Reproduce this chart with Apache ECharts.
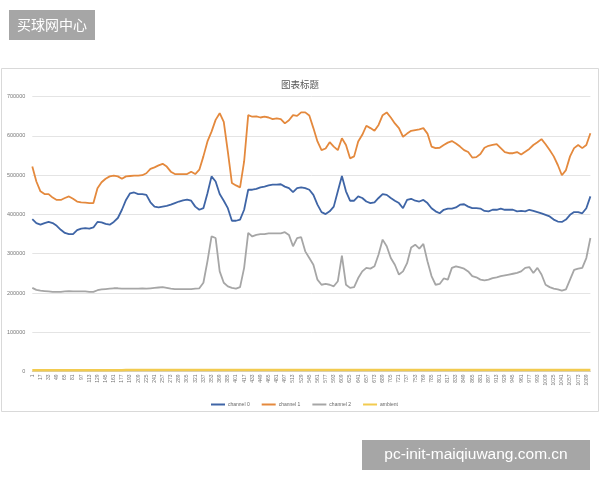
<!DOCTYPE html>
<html>
<head>
<meta charset="utf-8">
<script src="https://cdn.jsdelivr.net/npm/echarts@6/dist/echarts.min.js"></script>
<style>
html,body{margin:0;padding:0;background:#fff;}
#c{width:600px;height:480px;}
</style>
</head>
<body>
<div id="c"></div>
<script>
var categories = ["1","9","17","25","33","41","49","57","65","73","81","89","97","105","113","121","129","137","145","153","161","169","177","185","193","201","209","217","225","233","241","249","257","265","273","281","289","297","305","313","321","329","337","345","353","361","369","377","385","393","401","409","417","425","433","441","449","457","465","473","481","489","497","505","513","521","529","537","545","553","561","569","577","585","593","601","609","617","625","633","641","649","657","665","673","681","689","697","705","713","721","729","737","745","753","761","769","777","785","793","801","809","817","825","833","841","849","857","865","873","881","889","897","905","913","921","929","937","945","953","961","969","977","985","993","1001","1009","1017","1025","1033","1041","1049","1057","1065","1073","1081","1089","1097"];

var channel0 = [388000,378000,374000,378000,381000,378000,371000,361000,353000,350000,350000,360000,364000,365000,364000,367000,381000,380000,376000,374000,381000,391000,412000,437000,454000,456000,452000,452000,
450000,431000,420000,418000,420000,422000,425000,429000,433000,436000,438000,435000,420000,412000,416000,454000,497000,484000,452000,435000,416000,384000,384000,387000,412000,463000,463000,465000,
469000,471000,474000,476000,476000,477000,471000,467000,457000,467000,469000,467000,463000,450000,425000,406000,401000,408000,420000,459000,498000,459000,435000,435000,446000,442000,433000,
429000,431000,442000,452000,450000,442000,435000,429000,416000,437000,440000,435000,433000,437000,429000,416000,408000,403000,412000,415000,415000,418000,425000,426000,420000,416000,416000,415000,
409000,408000,412000,412000,415000,412000,412000,412000,408000,409000,408000,412000,409000,406000,403000,399000,395000,387000,382000,381000,387000,399000,406000,406000,403000,416000,446000];

var channel1 = [522000,484000,459000,452000,452000,443000,437000,437000,442000,446000,440000,433000,431000,430000,429000,429000,467000,482000,491000,497000,499000,497000,491000,497000,498000,499000,499000,500000,
505000,516000,520000,525000,529000,522000,509000,503000,503000,503000,503000,509000,503000,514000,548000,586000,611000,641000,658000,636000,560000,480000,474000,469000,535000,653000,649000,650000,
647000,649000,647000,643000,645000,643000,632000,640000,653000,651000,660000,660000,652000,620000,586000,564000,568000,584000,573000,564000,594000,577000,543000,548000,586000,603000,626000,
620000,613000,628000,653000,660000,647000,632000,620000,598000,606000,613000,615000,617000,620000,606000,573000,569000,570000,577000,583000,587000,581000,573000,564000,559000,545000,546000,554000,
570000,575000,577000,579000,569000,559000,556000,556000,559000,553000,560000,567000,577000,584000,592000,579000,564000,548000,526000,500000,513000,548000,569000,577000,569000,577000,607000];

var channel2 = [213000,208000,206000,205000,204000,203000,203000,203000,204000,205000,204000,204000,204000,204000,203000,203000,207000,209000,210000,211000,212000,212000,211000,211000,211000,211000,211000,212000,
211000,212000,213000,214000,215000,213000,211000,210000,210000,210000,210000,210000,211000,212000,226000,281000,344000,340000,255000,226000,217000,213000,211000,215000,264000,353000,344000,348000,
350000,350000,352000,352000,352000,352000,355000,348000,319000,340000,342000,306000,289000,272000,234000,221000,223000,221000,217000,230000,295000,221000,213000,215000,238000,255000,264000,
262000,268000,298000,336000,319000,289000,272000,247000,255000,276000,316000,323000,313000,325000,281000,243000,221000,223000,237000,234000,264000,268000,265000,262000,255000,243000,240000,234000,
232000,234000,238000,240000,243000,245000,247000,249000,251000,255000,264000,266000,251000,264000,247000,221000,215000,211000,209000,206000,209000,234000,259000,262000,264000,289000,340000];

var ambient = [
3500,3500,3500,3500,3500,3500,3500,3500,3500,3500,3500,3500,3500,3500,3500,3500,3500,3500,3500,3500,3500,3500,3500,
3600,3600,3600,3600,3600,3600,3600,3600,3600,3600,3600,3600,3600,3600,3600,3600,3600,3600,3600,3600,3600,3600,3600,
3700,3700,3700,3700,3700,3700,3700,3700,3700,3700,3700,3700,3700,3700,3700,3700,3700,3700,3700,3700,3700,3700,3700,
3800,3800,3800,3800,3800,3800,3800,3800,3800,3800,3800,3800,3800,3800,3800,3800,3800,3800,3800,3800,3800,3800,3800,
3900,3900,3900,3900,3900,3900,3900,3900,3900,3900,3900,3900,3900,3900,3900,3900,3900,3900,3900,3900,3900,3900,3900,
4000,4000,4000,4000,4000,4000,4000,4000,4000,4000,4000,4000,4000,4000,4000,4000,4000,4000,4000,4000,4000,4000,4000];

var yTicks = [0,100000,200000,300000,400000,500000,600000,700000];
var seriesNames = ["channel 0","channel 1","channel 2","ambient"];
var seriesColors = ["#3f65a6","#e4893d","#a6a6a6","#f2cb4f"];

var chart = echarts.init(document.getElementById('c'), null, {renderer:'canvas'});
var dataSets = [channel0, channel1, channel2, ambient];
var series = dataSets.map(function(d, i){
  return {
    name: seriesNames[i], type:'line', data:d, showSymbol:false, smooth:false,
    lineStyle:{width: i===3 ? 2.5 : 1.8, color: seriesColors[i]},
    itemStyle:{color: seriesColors[i]},
    animation:false
  };
});
chart.setOption({
  animation:false,
  backgroundColor:'#ffffff',
  title:{text:'图表标题', left:'center', top:75, textStyle:{fontSize:9.5, fontWeight:'normal', color:'#595959', fontFamily:'Noto Sans CJK SC'}},
  legend:{data:seriesNames, left:206, top:397, itemWidth:14, itemHeight:2, itemGap:12, icon:'rect',
    textStyle:{fontSize:5, color:'#666', fontFamily:'Liberation Sans', padding:[0,0,0,-2]}},
  grid:{left:32.3, right:9.6, top:96.7, bottom:108.5, containLabel:false},
  xAxis:{type:'category', data:categories, boundaryGap:false,
    axisLine:{lineStyle:{color:'#d0d0d0'}}, axisTick:{show:false},
    axisLabel:{interval:1, rotate:90, fontSize:5, color:'#777', margin:3, fontFamily:'Liberation Sans'}},
  yAxis:{type:'value', min:yTicks[0], max:yTicks[yTicks.length-1], interval:100000,
    axisLine:{show:false}, axisTick:{show:false},
    axisLabel:{fontSize:5.5, color:'#777', margin:7, fontFamily:'Liberation Sans', formatter:function(v){return String(v);}},
    splitLine:{lineStyle:{color:'#e4e4e4', width:1}}},
  series: series,
  graphic:[
    {type:'rect', shape:{x:1.5, y:68.5, width:597, height:343}, style:{fill:'none', stroke:'#d9d9d9', lineWidth:1}, z:-10},
    {type:'rect', shape:{x:9, y:10, width:86, height:30}, style:{fill:'#a6a6a6'}, z:100},
    {type:'text', x:52, y:25, style:{text:'买球网中心', fill:'#ffffff', fontSize:14, fontFamily:'Noto Sans CJK SC', align:'center', verticalAlign:'middle'}, z:101},
    {type:'rect', shape:{x:362, y:440, width:228, height:30}, style:{fill:'#a6a6a6'}, z:100},
    {type:'text', x:476, y:455, style:{text:'pc-init-maiqiuwang.com.cn', fill:'#ffffff', fontSize:15.5, fontFamily:'Liberation Sans', align:'center', verticalAlign:'middle'}, z:101}
  ]
});
</script>
</body>
</html>
